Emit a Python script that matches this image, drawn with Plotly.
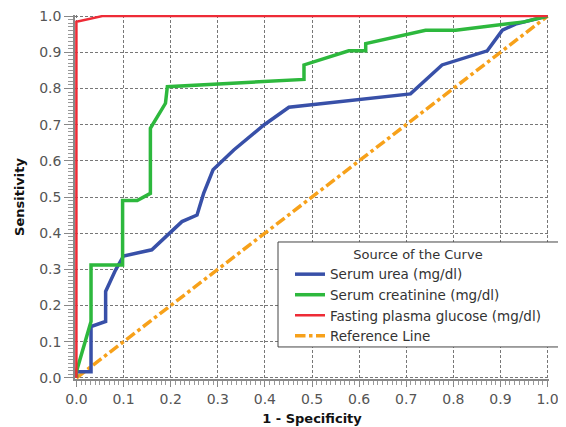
import plotly.graph_objects as go

# ROC curve data (1 - Specificity, Sensitivity)
urea_fpr = [0, 0, 0.031, 0.031, 0.062, 0.062, 0.083, 0.10, 0.16, 0.20, 0.224, 0.256, 0.27, 0.29,
            0.334, 0.398, 0.451, 0.709, 0.776, 0.872, 0.904, 0.932, 1.0]
urea_tpr = [0, 0.017, 0.017, 0.142, 0.156, 0.239, 0.298, 0.337, 0.354, 0.404, 0.432, 0.45, 0.51, 0.575,
            0.63, 0.699, 0.748, 0.785, 0.865, 0.904, 0.961, 0.978, 1.0]

creat_fpr = [0, 0, 0.031, 0.031, 0.098, 0.098, 0.129, 0.157, 0.157, 0.189, 0.193, 0.483, 0.483,
             0.578, 0.614, 0.614, 0.741, 0.805, 0.95, 1.0]
creat_tpr = [0, 0.017, 0.156, 0.312, 0.312, 0.49, 0.49, 0.51, 0.69, 0.759, 0.805, 0.825, 0.865,
             0.904, 0.904, 0.924, 0.961, 0.961, 0.984, 1.0]

gluc_fpr = [0, 0, 0.055, 1.0]
gluc_tpr = [0, 0.984, 1.0, 1.0]

ref_fpr = [0, 1]
ref_tpr = [0, 1]

names = ["Serum urea (mg/dl)", "Serum creatinine (mg/dl)",
         "Fasting plasma glucose (mg/dl)", "Reference Line"]
tick_vals = [0, 0.1, 0.2, 0.3, 0.4, 0.5, 0.6, 0.7, 0.8, 0.9, 1.0]
tick_text = ["0.0", "0.1", "0.2", "0.3", "0.4", "0.5", "0.6", "0.7", "0.8", "0.9", "1.0"]

FONT = "DejaVu Sans"

fig = go.Figure()
fig.add_trace(go.Scatter(x=ref_fpr, y=ref_tpr, mode="lines", name=names[3],
                         line=dict(color="#F7A11A", width=3.5, dash="dashdot"), showlegend=True,
                         legendrank=4))
fig.add_trace(go.Scatter(x=urea_fpr, y=urea_tpr, mode="lines", name=names[0],
                         line=dict(color="#3850A8", width=3.5), legendrank=1))
fig.add_trace(go.Scatter(x=creat_fpr, y=creat_tpr, mode="lines", name=names[1],
                         line=dict(color="#2DB83D", width=3.5), legendrank=2))
fig.add_trace(go.Scatter(x=gluc_fpr, y=gluc_tpr, mode="lines", name=names[2],
                         line=dict(color="#EE2B36", width=2.5), legendrank=3))

axis_common = dict(
    range=[-0.003, 1.003],
    tickmode="array", tickvals=tick_vals, ticktext=tick_text,
    showgrid=True, gridcolor="#777777", gridwidth=1, griddash="3px,2px",
    zeroline=False, showline=True, linecolor="#888888", linewidth=1.5,
    ticks="outside", tickcolor="#888888",
    ticklabeloverflow="allow",
    tickfont=dict(family=FONT, size=14, color="#555555"),
    minor=dict(dtick=0.01, tick0=0, ticks="outside", tickcolor="#999999", showgrid=False),
)

fig.update_xaxes(**axis_common, ticklen=6)
fig.update_xaxes(minor_ticklen=4,
                 title=dict(text="<b>1 - Specificity</b>", standoff=8,
                            font=dict(family=FONT, size=13, color="#111111")))
fig.update_yaxes(**axis_common, ticklen=9)
fig.update_yaxes(minor_ticklen=5,
                 title=dict(text="<b>Sensitivity</b>", standoff=12,
                            font=dict(family=FONT, size=13, color="#111111")))

fig.add_shape(type="rect", xref="paper", yref="paper",
              x0=0.4283, x1=1.0295, y0=0.088, y1=0.3764,
              line=dict(color="#444444", width=1), fillcolor="white", layer="above")

# page body has an 8px margin, so the figure is sized to fill the rest of the window
fig.update_layout(
    width=558, height=419,
    margin=dict(l=67, r=17, t=7, b=48, autoexpand=False),
    paper_bgcolor="white", plot_bgcolor="white",
    showlegend=True,
    legend=dict(
        x=0.4536, y=0.3764, xanchor="left", yanchor="top",
        bgcolor="rgba(0,0,0,0)", borderwidth=0,
        font=dict(family=FONT, size=13.5, color="#333333"),
        title=dict(text="Source of the Curve", side="top center",
                   font=dict(family=FONT, size=13, color="#333333")),
        traceorder="normal",
    ),
)

fig.write_html("out.html")
